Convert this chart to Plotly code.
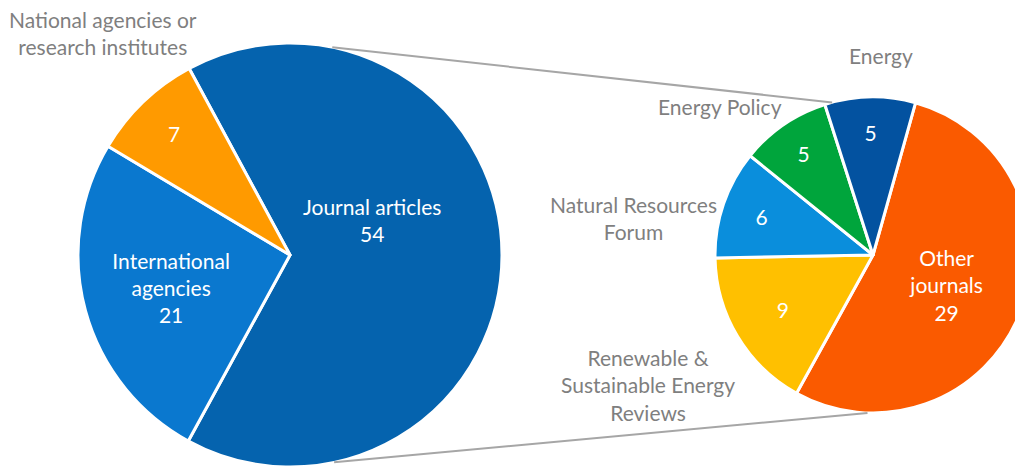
import math
import plotly.graph_objects as go

# ---------------- data ----------------
main_labels = ["Journal articles", "International agencies", "National agencies or research institutes"]
main_values = [54, 21, 7]
main_text = ["", "International<br>agencies<br>%{value}", "%{value}"]
main_colors = ["#0563AE", "#0A78CF", "#FF9A00"]

sub_labels = ["Other journals", "Renewable & Sustainable Energy Reviews", "Natural Resources Forum",
              "Energy Policy", "Energy"]
sub_values = [29, 9, 6, 5, 5]
sub_text = ["Other<br>journals<br>%{value}", "%{value}", "%{value}", "%{value}", "%{value}"]
sub_colors = ["#FA5A00", "#FFC000", "#0A8EDC", "#00A53C", "#0352A0"]

outside_labels = ["National agencies or<br>research institutes", "Energy", "Energy Policy",
                  "Natural Resources<br>Forum", "Renewable &<br>Sustainable Energy<br>Reviews"]

# ---------------- geometry (pixels, page coordinates) ----------------
W, H = 1023, 466
OFF = 8  # page body margin offset
L_cx, L_cy, L_r = 290 - OFF, 255 - OFF, 212
R_r = 158
R_cx, R_cy = W - R_r, 255 - OFF

def xdom(cx, r):
    return [max(0, (cx - r) / W), min(1, (cx + r) / W)]

def ydom(cy, r):
    b = H - cy
    return [max(0, (b - r) / H), min(1, (b + r) / H)]

font_family = "Lato, 'Open Sans', sans-serif"
FS = 21

fig = go.Figure()
fig.add_trace(go.Pie(
    labels=main_labels, values=main_values, sort=False, direction="clockwise",
    rotation=-28.4, texttemplate=main_text, textposition="inside",
    insidetextorientation="horizontal",
    marker=dict(colors=main_colors, line=dict(color="white", width=3)),
    insidetextfont=dict(color="white", size=FS, family=font_family),
    domain=dict(x=xdom(L_cx, L_r), y=ydom(L_cy, L_r)),
    showlegend=False, hoverinfo="label+value",
))
fig.add_trace(go.Pie(
    labels=sub_labels, values=sub_values, sort=False, direction="clockwise",
    rotation=15.6, texttemplate=sub_text, textposition="inside",
    insidetextorientation="horizontal",
    marker=dict(colors=sub_colors, line=dict(color="white", width=3)),
    insidetextfont=dict(color="white", size=FS, family=font_family),
    domain=dict(x=xdom(R_cx, R_r), y=ydom(R_cy, R_r)),
    showlegend=False, hoverinfo="label+value",
))

# journal articles label placed like the original
fig.add_annotation(text=f"{main_labels[0]}<br>{main_values[0]}",
                   x=(372 - OFF) / W, y=1 - (220 - OFF) / H, xref="paper", yref="paper",
                   showarrow=False, xanchor="center", yanchor="middle",
                   font=dict(size=FS, color="white", family=font_family))

# connector lines (computed from pie geometry)
def pt(cx, cy, r, ang):
    a = math.radians(ang)
    return (cx + r * math.sin(a)) / W, 1 - (cy - r * math.cos(a)) / H

connectors = [((L_cx, L_cy, L_r, 11.5), (R_cx, R_cy, R_r, -15)),
              ((L_cx, L_cy, L_r, 168), (R_cx, R_cy, R_r, 182))]
for a, b in connectors:
    x0, y0 = pt(*a)
    x1, y1 = pt(*b)
    fig.add_shape(type="line", xref="paper", yref="paper", x0=x0, y0=y0, x1=x1, y1=y1,
                  line=dict(color="#A6A6A6", width=2))

label_pos = [(103, 33), (881, 55), (720, 107), (633, 218), (648, 385)]
for txt, (x, y) in zip(outside_labels, label_pos):
    fig.add_annotation(text=txt, x=(x - OFF) / W, y=1 - (y - OFF) / H, xref="paper", yref="paper",
                       showarrow=False, xanchor="center", yanchor="middle",
                       font=dict(size=FS, color="#7F7F7F", family=font_family))

fig.update_layout(width=W, height=H, margin=dict(l=0, r=0, t=0, b=0),
                  paper_bgcolor="white", plot_bgcolor="white")
fig.write_html("out.html")
